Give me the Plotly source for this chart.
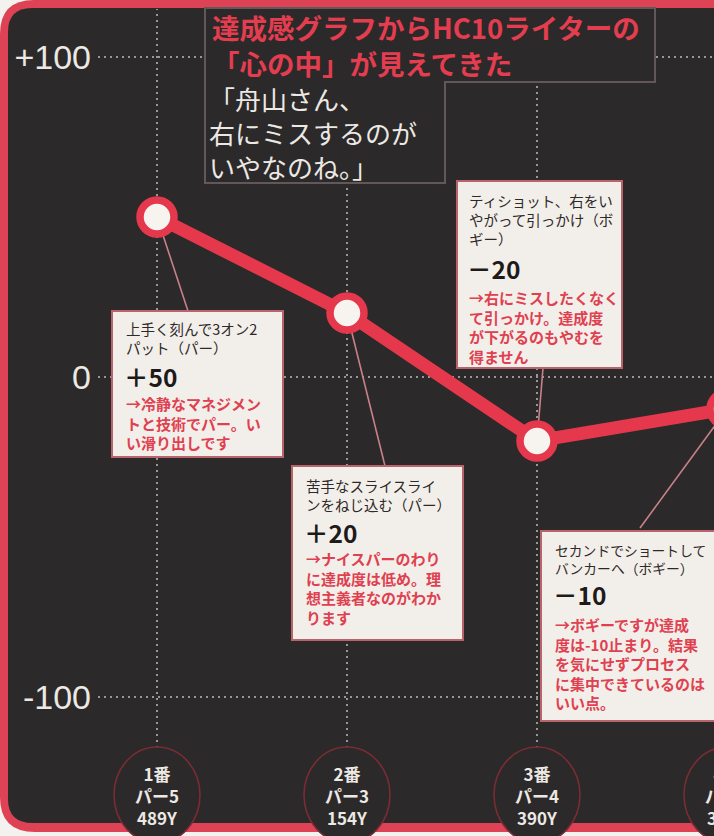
import plotly.graph_objects as go

# ---------------- data ----------------
holes = [1, 2, 3, 4]
hole_labels = ["1番<br>パー5<br>489Y", "2番<br>パー3<br>154Y", "3番<br>パー4<br>390Y", "4番<br>パー4<br>318Y"]
scores = [50, 20, -20, -10]
score_text = ["＋50", "＋20", "－20", "－10"]
situations = [
    ["上手く刻んで3オン2", "パット（パー）"],
    ["苦手なスライスライ", "ンをねじ込む（パー）"],
    ["ティショット、右をい", "やがって引っかけ（ボ", "ギー）"],
    ["セカンドでショートして", "バンカーへ（ボギー）"],
]
comments = [
    ["→冷静なマネジメン", "トと技術でパー。い", "い滑り出しです"],
    ["→ナイスパーのわり", "に達成度は低め。理", "想主義者なのがわか", "ります"],
    ["→右にミスしたくなく", "て引っかけ。達成度", "が下がるのもやむを", "得ません"],
    ["→ボギーですが達成", "度は-10止まり。結果", "を気にせずプロセス", "に集中できているのは", "いい点。"],
]
ytick_vals = [-100, 0, 100]
ytick_text = ["-100", "0", "+100"]
title_lines = ["達成感グラフからHC10ライターの", "「心の中」が見えてきた"]
quote_lines = ["「舟山さん、", "右にミスするのが", "いやなのね。」"]

# ---------------- styling / layout ----------------
W, H = 714, 836
L = 95
BG = "#2b2929"
RED = "#e5384c"
FRAME = "#dd4255"
WHITE = "#ece8e3"
BOX_FILL = "#f2efea"
BOX_LINE = "#b9646c"
LEAD = "#c98089"
GRID = "#9a9795"
JP = "Noto Sans CJK JP"
LS = 1.3  # plotly line spacing factor

X_RANGE = [1 - (157 - L) / 190, 1 + (W - 157) / 190]
Y_RANGE = [-(H - 377) / 3.2, 377 / 3.2]


def pxx(px):
    return (px - L) / (W - L)


def pxy(py):
    return 1 - py / H


def path(points):
    s = ""
    for cmd, pts in points:
        s += cmd + " " + " ".join(f"{pxx(a):.5f},{pxy(b):.5f}" for a, b in pts) + " "
    return s + "Z"


fig = go.Figure()

shapes = []
# outer frame
shapes.append(dict(type="path", xref="paper", yref="paper", layer="below",
                   path=path([("M", [(740, 0)]), ("L", [(34, 0)]), ("Q", [(0, 0), (0, 34)]),
                              ("L", [(0, 797)]), ("Q", [(0, 832), (35, 832)]), ("L", [(740, 832)])]),
                   fillcolor=FRAME, line=dict(width=0)))
shapes.append(dict(type="path", xref="paper", yref="paper", layer="below",
                   path=path([("M", [(740, 8)]), ("L", [(32, 8)]), ("Q", [(8, 8), (8, 32)]),
                              ("L", [(8, 799)]), ("Q", [(8, 823), (33, 823)]), ("L", [(740, 823)])]),
                   fillcolor=BG, line=dict(width=0)))

# grid lines
for h in holes:
    shapes.append(dict(type="line", xref="x", yref="paper", layer="below",
                       x0=h, x1=h, y0=pxy(748), y1=pxy(9),
                       line=dict(color=GRID, width=2, dash="2px,4px")))
for v in ytick_vals:
    shapes.append(dict(type="line", xref="paper", yref="y", layer="below",
                       x0=pxx(98), x1=1, y0=v, y1=v,
                       line=dict(color=GRID, width=2, dash="2px,4px")))

# note box positions (pixels)
boxes = [
    dict(rect=(112, 311, 283, 457), tx=124, by=329, bf=14.5, ny=376, ry=403, lead=(31, -94)),
    dict(rect=(292, 466, 463, 640), tx=304, by=486, bf=14.5, ny=532, ry=559, lead=(38, -153)),
    dict(rect=(457, 181, 622, 368), tx=467, by=201, bf=14.5, ny=268, ry=298, lead=(6, 73)),
    dict(rect=(541, 531, 722, 721), tx=553, by=550, bf=13.8, ny=594, ry=624, lead=(-87, -119)),
]
RED_FS = 15

# leader lines anchored at data points
for h, s, b in zip(holes, scores, boxes):
    dx, dy = b["lead"]
    shapes.append(dict(type="line", xref="x", yref="y", layer="below",
                       xsizemode="pixel", ysizemode="pixel", xanchor=h, yanchor=s,
                       x0=0, y0=0, x1=dx, y1=dy, line=dict(color=LEAD, width=1.6)))

# title box (L shaped)
shapes.append(dict(type="path", xref="paper", yref="paper", layer="above",
                   path=path([("M", [(205, 8)]), ("L", [(655, 8)]), ("L", [(655, 82)]), ("L", [(445, 82)]),
                              ("L", [(445, 183)]), ("L", [(205, 183)])]),
                   fillcolor=BG, line=dict(color="#625759", width=2)))

# note boxes
for b in boxes:
    x0, y0, x1, y1 = b["rect"]
    shapes.append(dict(type="rect", xref="paper", yref="paper", layer="above",
                       x0=pxx(x0), x1=pxx(x1), y0=pxy(y1), y1=pxy(y0),
                       fillcolor=BOX_FILL, line=dict(color=BOX_LINE, width=2)))

# hole circles
for h in holes:
    shapes.append(dict(type="circle", xref="x", yref="paper", layer="above",
                       xsizemode="pixel", ysizemode="pixel", xanchor=h, yanchor=pxy(795),
                       x0=-43, x1=43, y0=-48, y1=48,
                       fillcolor=BG, line=dict(color="#7a2c34", width=1.6)))

annotations = []


def block(lines, fs, center, x, color, bold):
    txt = "<br>".join(f"<b>{t}</b>" if bold else t for t in lines)
    return dict(text=txt, xref="paper", yref="paper", x=pxx(x), y=pxy(center),
                xanchor="left", yanchor="middle", showarrow=False, align="left",
                font=dict(family=JP, size=fs, color=color))


# title and quote
annotations.append(block(title_lines, 27.5, 45, 210, "#e43d50", True))
annotations.append(block(quote_lines, 26, 132, 207, WHITE, False))

# note texts
for b, sit, num, com in zip(boxes, situations, score_text, comments):
    bc = b["by"] + b["bf"] * LS * (len(sit) - 1) / 2
    annotations.append(block(sit, b["bf"], bc, b["tx"], "#2e2828", False))
    annotations.append(dict(text=f"<b>{num}</b>", xref="paper", yref="paper", x=pxx(b["tx"] - 2), y=pxy(b["ny"]),
                            xanchor="left", yanchor="middle", showarrow=False,
                            font=dict(family=JP, size=24.5, color="#1e1a1a")))
    rc = b["ry"] + RED_FS * LS * (len(com) - 1) / 2
    annotations.append(block(com, RED_FS, rc, b["tx"], "#e0404f", True))

# hole labels
for h, lab in zip(holes, hole_labels):
    xp = (h - X_RANGE[0]) / (X_RANGE[1] - X_RANGE[0])
    annotations.append(dict(text=f"<b>{lab}</b>", xref="paper", yref="paper", x=xp, y=pxy(795),
                            xanchor="center", yanchor="middle", showarrow=False, align="center",
                            font=dict(family=JP, size=17, color=WHITE)))

fig.add_trace(go.Scatter(
    x=holes, y=scores, mode="lines+markers",
    line=dict(color=RED, width=13),
    marker=dict(size=34, color="#f7f3ee", line=dict(color=RED, width=7.5)),
    hoverinfo="skip", cliponaxis=True,
))

fig.update_layout(
    width=W, height=H,
    margin=dict(l=L, r=0, t=0, b=0),
    paper_bgcolor="#f4f2ee",
    plot_bgcolor="rgba(0,0,0,0)",
    showlegend=False,
    shapes=shapes,
    annotations=annotations,
    xaxis=dict(range=X_RANGE, showgrid=False, zeroline=False, showticklabels=False, showline=False, fixedrange=True),
    yaxis=dict(range=Y_RANGE, showgrid=False, zeroline=False, showline=False,
               tickmode="array", tickvals=ytick_vals, ticktext=ytick_text, ticks="",
               ticklabelstandoff=3,
               tickfont=dict(family="Liberation Sans, Arial", size=34, color=WHITE)),
)

fig.write_html("out.html")
